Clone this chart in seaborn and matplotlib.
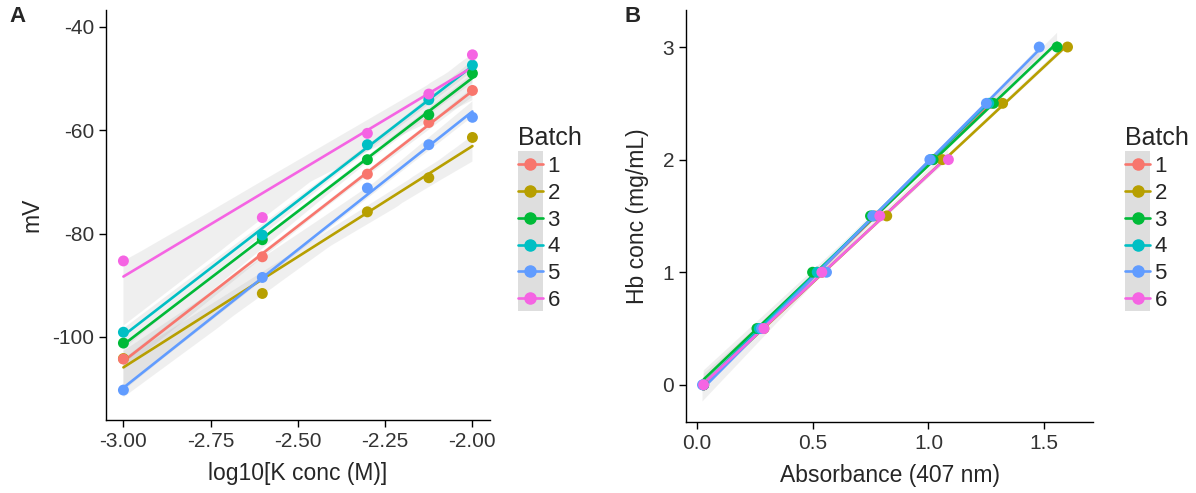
import matplotlib
matplotlib.use("Agg")
import matplotlib.pyplot as plt
import seaborn as sns
import numpy as np
import pandas as pd
from matplotlib.lines import Line2D
from matplotlib.patches import Rectangle

sns.set_theme(style="ticks")
plt.rcParams['font.family'] = ['Liberation Sans', 'DejaVu Sans']

batches = ["1", "2", "3", "4", "5", "6"]
colors = ["#F8766D", "#B79F00", "#00BA38", "#00BFC4", "#619CFF", "#F564E3"]

# Panel A: log10 K concentration vs mV
logK = [-3.0, -2.602, -2.301, -2.125, -2.0]
mv_1 = [-104.3, -84.5, -68.5, -58.5, -52.3]
mv_2 = [-104.2, -91.6, -75.8, -69.2, -61.4]
mv_3 = [-101.2, -81.2, -65.7, -57.0, -49.0]
mv_4 = [-99.1, -80.3, -62.8, -54.1, -47.4]
mv_5 = [-110.3, -88.5, -71.2, -62.8, -57.5]
mv_6 = [-85.3, -76.9, -60.6, -53.0, -45.4]
mv_all = [mv_1, mv_2, mv_3, mv_4, mv_5, mv_6]

# Panel B: absorbance vs Hb concentration
hb_1 = [0, 0.5, 1, 1.5, 2, 2.5]
abs_1 = [0.03, 0.28, 0.52, 0.77, 1.02, 1.27]
hb_2 = [0, 0.5, 1, 1.5, 2, 2.5, 3]
abs_2 = [0.03, 0.29, 0.54, 0.82, 1.06, 1.32, 1.60]
hb_3 = [0, 0.5, 1, 1.5, 2, 2.5, 3]
abs_3 = [0.03, 0.26, 0.50, 0.75, 1.02, 1.28, 1.555]
hb_4 = [0, 0.5, 1, 1.5, 2, 2.5]
abs_4 = [0.03, 0.27, 0.52, 0.76, 1.01, 1.26]
hb_5 = [0, 0.5, 1, 1.5, 2, 2.5, 3]
abs_5 = [0.025, 0.28, 0.56, 0.76, 1.006, 1.25, 1.478]
hb_6 = [0, 0.5, 1, 1.5, 2]
abs_6 = [0.03, 0.29, 0.54, 0.79, 1.086]
hb_all = [hb_1, hb_2, hb_3, hb_4, hb_5, hb_6]
abs_all = [abs_1, abs_2, abs_3, abs_4, abs_5, abs_6]

dfA = pd.concat([pd.DataFrame({"logK": logK, "mV": v, "Batch": b}) for v, b in zip(mv_all, batches)])
dfB = pd.concat([pd.DataFrame({"Abs": a, "Hb": h, "Batch": b}) for a, h, b in zip(abs_all, hb_all, batches)])

fig = plt.figure(figsize=(11.96, 4.93), dpi=100)
axA = fig.add_axes([0.0886, 0.148, 0.321, 0.832])
axB = fig.add_axes([0.5736, 0.144, 0.3403, 0.836])

def draw(ax, df, xcol, ycol, point_order):
    for b, c in zip(batches, colors):
        sub = df[df["Batch"] == b]
        sns.regplot(data=sub, x=xcol, y=ycol, ax=ax, scatter=False, ci=95,
                    color="0.6", line_kws={"lw": 1.9})
        ax.lines[-1].set_color(c)
        ax.lines[-1].set_zorder(3)
        poly = ax.collections[-1]
        poly.set_facecolor((0.6, 0.6, 0.6, 0.3))
        poly.set_edgecolor("none")
    for b in point_order:
        sub = df[df["Batch"] == b]
        sns.scatterplot(data=sub, x=xcol, y=ycol, color=colors[batches.index(b)],
                        ax=ax, s=62, edgecolor="none", legend=False, zorder=4)

draw(axA, dfA, "logK", "mV", ["2", "1", "3", "4", "5", "6"])
draw(axB, dfB, "Abs", "Hb", batches)

tick_col = "#333333"
for ax in (axA, axB):
    sns.despine(ax=ax)
    ax.tick_params(labelsize=15, labelcolor=tick_col, length=5, width=1, color="black")
    for s in ("left", "bottom"):
        ax.spines[s].set_color("black")
        ax.spines[s].set_linewidth(1.0)

axA.set_xlim(-3.05, -1.95)
axA.set_ylim(-116.1, -36.7)
axA.set_xticks([-3.0, -2.75, -2.5, -2.25, -2.0])
axA.set_xticklabels(["-3.00", "-2.75", "-2.50", "-2.25", "-2.00"])
axA.set_yticks([-100, -80, -60, -40])
axA.set_yticklabels(["-100", "-80", "-60", "-40"])
axA.set_xlabel("log10[K conc (M)]", fontsize=16.5, labelpad=8)
axA.set_ylabel("mV", fontsize=16.5, labelpad=6)

axB.set_xlim(-0.046, 1.71)
axB.set_ylim(-0.33, 3.33)
axB.set_xticks([0.0, 0.5, 1.0, 1.5])
axB.set_xticklabels(["0.0", "0.5", "1.0", "1.5"])
axB.set_yticks([0, 1, 2, 3])
axB.set_xlabel("Absorbance (407 nm)", fontsize=16.5, labelpad=8)
axB.set_ylabel("Hb conc (mg/mL)", fontsize=16.5, labelpad=10)

fig.text(0.008, 0.955, "A", fontsize=16, fontweight="bold")
fig.text(0.522, 0.955, "B", fontsize=16, fontweight="bold")

handles = [Line2D([0], [0], color=c, lw=1.9, marker="o", markersize=8) for c in colors]

def legend(ax, x, y):
    leg = ax.legend(handles, batches, title="Batch", frameon=False, fontsize=16,
                    title_fontsize=18, loc="upper left", bbox_to_anchor=(x, y),
                    bbox_transform=fig.transFigure, handlelength=1.13, handletextpad=0.2,
                    labelspacing=0.26, borderaxespad=0, borderpad=0)
    leg._legend_box.align = "left"
    leg.set_zorder(6)
    return leg

legA = legend(axA, 0.433, 0.744)
legB = legend(axB, 0.9406, 0.744)

fig.canvas.draw()
r = fig.canvas.get_renderer()
W, H = fig.bbox.width, fig.bbox.height
for ax, leg in ((axA, legA), (axB, legB)):
    pts = np.vstack([h.get_transform().transform(h.get_xydata()) for h in leg.legend_handles])
    x0 = pts[:, 0].min()
    x1 = pts[:, 0].max()
    y0 = pts[:, 1].min() - 13
    y1 = pts[:, 1].max() + 13
    ax.add_artist(Rectangle((x0 / W, y0 / H), (x1 - x0) / W, (y1 - y0) / H,
                            transform=fig.transFigure, facecolor="#DEDEDE",
                            edgecolor="none", zorder=5.5, clip_on=False))

fig.savefig("out.png", dpi=100)
